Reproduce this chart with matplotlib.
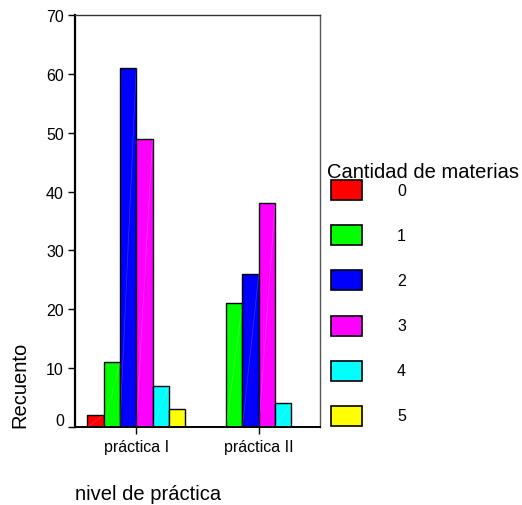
import matplotlib
matplotlib.use("Agg")
import matplotlib.pyplot as plt
import matplotlib.patches as mpatches
import matplotlib.transforms as mtransforms
import numpy as np

plt.rcParams['font.family'] = ['Liberation Sans', 'DejaVu Sans']

groups = ['práctica I', 'práctica II']
materias = ['0', '1', '2', '3', '4', '5']
counts = {
    '0': [2, 0],
    '1': [11, 21],
    '2': [61, 26],
    '3': [49, 38],
    '4': [7, 4],
    '5': [3, 0],
}
colors = ['#ff0000', '#00ff00', '#0000ff', '#ff00ff', '#00ffff', '#ffff00']
yticks = [0, 10, 20, 30, 40, 50, 60, 70]

W, H = 522, 506
fig = plt.figure(figsize=(W / 100, H / 100), dpi=100)
ax = fig.add_axes([75 / W, 1 - 428 / H, 245 / W, 412 / H])

x = np.arange(len(groups))
width = 1 / 7.5
n = len(materias)
for i, m in enumerate(materias):
    off = (i - (n - 1) / 2) * width
    vals = counts[m]
    for xi, v in zip(x, vals):
        if v <= 0:
            continue
        ax.bar(xi + off, v, width, color=colors[i], edgecolor='black', linewidth=1.0, zorder=2)
        # faint diagonal highlight like the original shading
        ax.plot([xi + off - width / 2, xi + off + width / 2], [0, v],
                color='white', alpha=0.2, linewidth=0.5, zorder=3)

ax.set_xlim(-0.5, 1.5)
ax.set_ylim(0, 70)
ax.set_yticks(yticks)
ax.set_xticks(x)
ax.set_xticklabels(groups)
ax.tick_params(axis='both', labelsize=11.5, length=5, width=1, direction='out', colors='black')
ax.tick_params(axis='x', pad=4)
ax.tick_params(axis='y', pad=3)

# SPSS lifts the "0" label a little above the baseline
lbl0 = ax.get_yticklabels()[0]
lbl0.set_transform(lbl0.get_transform() + mtransforms.ScaledTranslation(0, 8 / 100, fig.dpi_scale_trans))

ax.spines['left'].set_linewidth(1.6)
ax.spines['bottom'].set_linewidth(1.4)
ax.spines['top'].set_color('#333333')
ax.spines['right'].set_color('#555555')
ax.spines['top'].set_linewidth(1.0)
ax.spines['right'].set_linewidth(1.0)

fig.text(20 / W, 1 - 428 / H, 'Recuento', rotation=90, ha='center', va='bottom', fontsize=14.5)
fig.text(75 / W, 1 - 495 / H, 'nivel de práctica', ha='left', va='center', fontsize=14.5)

# legend
fig.text(327 / W, 1 - 172 / H, 'Cantidad de materias', ha='left', va='center', fontsize=14.5)
for i, m in enumerate(materias):
    yc = 191 + 45.2 * i
    rect = mpatches.Rectangle((331 / W, 1 - (yc + 10) / H), 31 / W, 20 / H,
                              facecolor=colors[i], edgecolor='black', linewidth=1.2,
                              transform=fig.transFigure)
    fig.add_artist(rect)
    fig.text(397 / W, 1 - yc / H, m, ha='left', va='center', fontsize=11.5)

fig.savefig('out.png', dpi=100)
